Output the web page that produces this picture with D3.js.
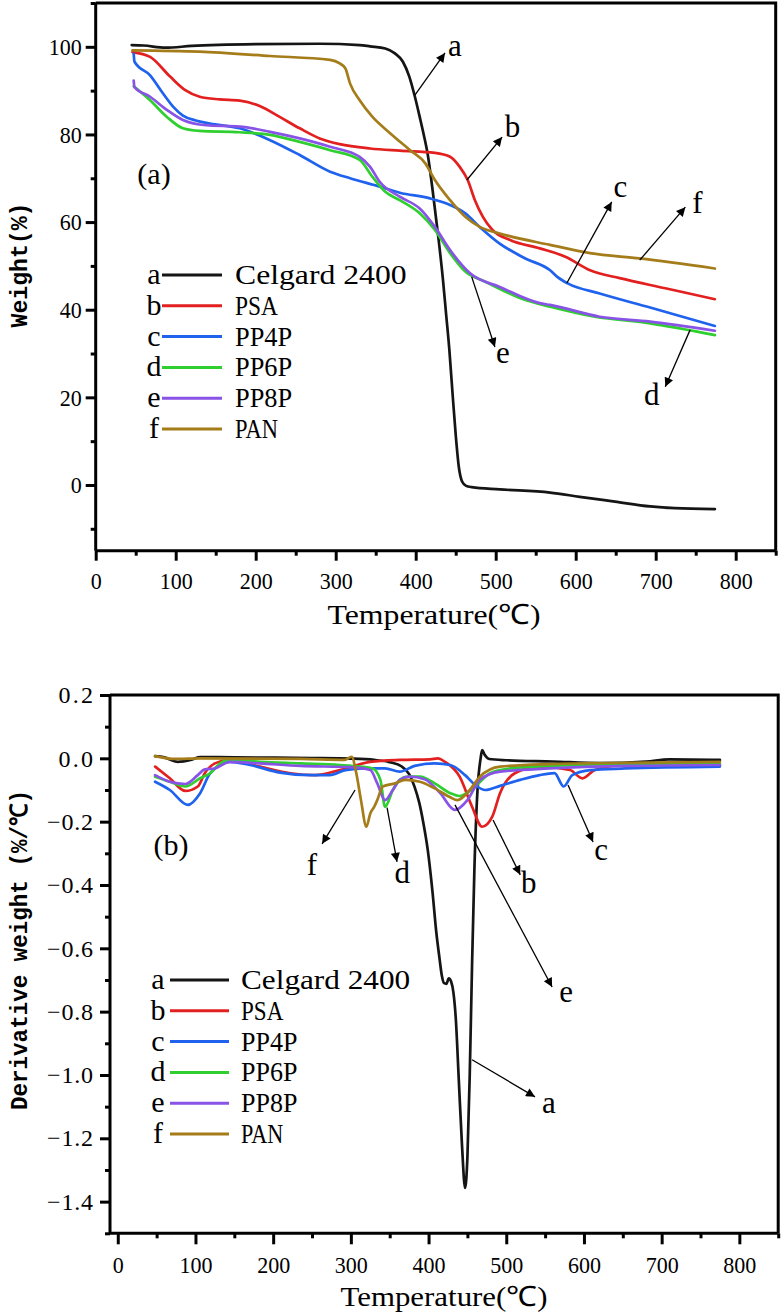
<!DOCTYPE html>
<html><head><meta charset="utf-8">
<script src="https://cdn.jsdelivr.net/npm/d3@7"></script>
<style>
html,body{margin:0;padding:0;background:#fff;}
svg{display:block;}
</style></head>
<body>
<svg id="chart" width="782" height="1315"></svg>
<script>
// ---------- DATA ----------
const seriesLabels = ["Celgard 2400", "PSA", "PP4P", "PP6P", "PP8P", "PAN"];
const seriesKeys = ["a", "b", "c", "d", "e", "f"];
const seriesColors = ["#151515", "#e2201f", "#1f62ee", "#2fcf2f", "#8853e6", "#a47c1a"];

// TGA (weight %, vs temperature °C)
const tgaCelgard = [[45,100.4],[60,100.3],[87,99.8],[120,100.2],[200,100.6],[280,100.7],[330,100.4],[343,100.1],[362,99.6],[374,98.5],[384,96.6],[392,93.2],[399,88.6],[405,84],[410,80],[415,75.5],[421,67.5],[428,57],[434,47],[438,39],[442,31],[446,21],[450,11.5],[454,4],[458,0.8],[463,-0.2],[470,-0.5],[505,-1.0],[568,-1.75],[605,-2.7],[649,-3.8],[693,-4.9],[724,-5.3],[774,-5.5]];
const tgaPSA = [[46,98.8],[68,97.7],[93,93.2],[112,90.1],[130,88.6],[155,88],[180,87.7],[205,86.5],[230,84],[255,81.4],[280,79.1],[305,77.8],[343,76.8],[380,76.3],[424,75.8],[443,74.9],[455,72.6],[465,69.6],[474,65],[484,61.2],[496,58.2],[518,55.9],[555,54],[587,52.1],[618,49],[655,47.2],[712,44.9],[774,42.4]];
const tgaPP4P = [[47.5,98.4],[48.5,96.6],[68,93.5],[84,89.4],[97,86.3],[109,84.3],[125,83.2],[143,82.5],[180,81.4],[218,78.7],[255,75.3],[293,71.5],[318,70],[355,68.1],[380,66.7],[418,65.4],[443,63.9],[462,62],[480,58.9],[505,55.1],[537,51.7],[568,49],[577,47.5],[590,46],[630,43.7],[693,40.5],[774,36.3]];
const tgaPP6P = [[47.5,91],[68,87.8],[89,84],[109,81.4],[130,80.8],[180,80.5],[218,79.9],[255,78.3],[293,76.4],[330,74.2],[346,70.3],[362,66.9],[380,65],[405,62],[424,58.2],[443,52.9],[462,48.7],[487,46.4],[537,42.2],[568,40.7],[624,38.4],[693,36.9],[774,34.2]];
const tgaPP8P = [[47.5,92.3],[48.5,90.8],[68,88.6],[89,85.6],[109,83.3],[138,82.1],[180,81.8],[218,80.6],[255,79.1],[293,77.2],[330,74.9],[343,72.6],[355,69.2],[380,65.8],[405,63.1],[424,58.9],[443,53.6],[468,48.3],[505,45.2],[555,41.5],[568,41.1],[630,38.4],[693,37.3],[774,35.2]];
const tgaPAN = [[46,99.2],[130,98.9],[218,97.9],[293,97],[305,96.2],[312,95.1],[318,91.6],[330,87.8],[346,84],[368,80.3],[393,76.4],[412,73.4],[424,69.6],[443,65],[462,61.2],[480,58.9],[505,57.4],[568,54.8],[618,52.9],[680,51.7],[774,49.4]];

// DTG (derivative weight %/°C, vs temperature °C)
const dtgCelgard = [[48,0.007],[60,0.003],[77,-0.011],[95,-0.004],[106,0.004],[150,0.003],[250,0.001],[300,-0.001],[330,-0.005],[350,-0.012],[365,-0.025],[375,-0.05],[382,-0.09],[388,-0.14],[393,-0.2],[399,-0.29],[405,-0.42],[410,-0.55],[414,-0.63],[417,-0.685],[420,-0.71],[423,-0.712],[426,-0.695],[429,-0.705],[432,-0.74],[435,-0.82],[439,-1.02],[443,-1.22],[447,-1.357],[450,-1.26],[453,-1.0],[456,-0.65],[459,-0.35],[463,-0.1],[467,0.0],[469,0.026],[472,0.012],[478,-0.002],[500,-0.006],[560,-0.01],[620,-0.015],[680,-0.01],[710,-0.003],[775,-0.005]];
const dtgPSA = [[48,-0.026],[67,-0.063],[87,-0.103],[103,-0.089],[112,-0.047],[125,-0.016],[144,-0.005],[183,-0.026],[222,-0.047],[254,-0.053],[286,-0.037],[325,-0.011],[363,-0.005],[402,-0.003],[412,0.0],[421,-0.011],[440,-0.058],[456,-0.153],[469,-0.216],[482,-0.184],[492,-0.11],[511,-0.047],[543,-0.026],[582,-0.037],[598,-0.063],[614,-0.037],[653,-0.021],[775,-0.021]];
const dtgPP4P = [[48,-0.074],[67,-0.1],[90,-0.147],[106,-0.11],[119,-0.047],[144,-0.011],[170,-0.021],[209,-0.045],[248,-0.053],[273,-0.053],[293,-0.037],[318,-0.032],[344,-0.032],[363,-0.042],[382,-0.024],[408,-0.016],[428,-0.021],[447,-0.053],[460,-0.084],[473,-0.1],[492,-0.087],[518,-0.068],[543,-0.053],[562,-0.047],[574,-0.089],[585,-0.053],[608,-0.037],[653,-0.032],[775,-0.026]];
const dtgPP6P = [[48,-0.058],[67,-0.074],[87,-0.089],[106,-0.063],[119,-0.047],[132,-0.016],[144,-0.005],[183,-0.011],[235,-0.016],[286,-0.021],[312,-0.026],[328,-0.032],[338,-0.068],[344,-0.153],[354,-0.1],[363,-0.068],[373,-0.058],[389,-0.058],[408,-0.079],[428,-0.11],[440,-0.119],[460,-0.089],[479,-0.047],[505,-0.032],[556,-0.024],[653,-0.018],[775,-0.018]];
const dtgPP8P = [[48,-0.053],[67,-0.074],[87,-0.081],[103,-0.053],[112,-0.035],[125,-0.032],[144,-0.011],[183,-0.016],[235,-0.024],[299,-0.028],[325,-0.037],[334,-0.079],[344,-0.132],[354,-0.1],[363,-0.068],[376,-0.058],[395,-0.066],[415,-0.11],[434,-0.163],[450,-0.132],[466,-0.068],[492,-0.042],[556,-0.032],[653,-0.024],[775,-0.021]];
const dtgPAN = [[48,0.007],[74,-0.002],[106,0.0],[235,-0.002],[292,-0.005],[301,0.005],[307,-0.047],[313,-0.132],[320,-0.216],[325,-0.174],[330,-0.153],[334,-0.132],[341,-0.089],[357,-0.079],[370,-0.068],[389,-0.074],[408,-0.095],[428,-0.123],[437,-0.132],[453,-0.1],[466,-0.058],[492,-0.026],[556,-0.018],[653,-0.014],[775,-0.011]];

// Axis ticks
const xTicks = [0, 100, 200, 300, 400, 500, 600, 700, 800];
const xMinorTicks = [50, 150, 250, 350, 450, 550, 650, 750, 850];
const tgaYTicks = [0, 20, 40, 60, 80, 100];
const tgaYMinorTicks = [-10, 10, 30, 50, 70, 90, 110];
const dtgYTicks = [0.2, 0.0, -0.2, -0.4, -0.6, -0.8, -1.0, -1.2, -1.4];
const dtgYMinorTicks = [0.1, -0.1, -0.3, -0.5, -0.7, -0.9, -1.1, -1.3, -1.5];

// Arrow annotations (data coordinates): from curve point, to arrow tip, label position
const tgaArrows = [
  {label:"a", from:[399,89.0], to:[436.6,98.6], at:[449,98.0]},
  {label:"b", from:[464,69.6], to:[508,79.4], at:[521,79.4]},
  {label:"c", from:[589,46.1], to:[645,64.6], at:[656,65.7]},
  {label:"f", from:[680,51.3], to:[737,63.4], at:[752,62.1]},
  {label:"e", from:[470,47.5], to:[499,31.5], at:[509,27.8]},
  {label:"d", from:[743,35.4], to:[712,22.4], at:[695,18.3]}
];
const dtgArrows = [
  {label:"f", from:[305.4,-0.10], to:[263,-0.27], at:[250,-0.368]},
  {label:"d", from:[346.6,-0.156], to:[359.4,-0.327], at:[366,-0.394]},
  {label:"b", from:[483,-0.195], to:[518,-0.368], at:[529,-0.425]},
  {label:"c", from:[579.5,-0.084], to:[611.7,-0.264], at:[622,-0.321]},
  {label:"e", from:[434,-0.147], to:[559,-0.722], at:[577,-0.77]},
  {label:"a", from:[456,-0.952], to:[537,-1.069], at:[555,-1.12]}
];

const tgaSeries = [tgaCelgard, tgaPSA, tgaPP4P, tgaPP6P, tgaPP8P, tgaPAN];
const dtgSeries = [dtgCelgard, dtgPSA, dtgPP4P, dtgPP6P, dtgPP8P, dtgPAN];

// ---------- DRAWING ----------
const svg = d3.select("#chart");
const serif = "Liberation Serif, Times New Roman, serif";
const mono = "Liberation Mono, DejaVu Sans Mono, monospace";

svg.append("defs").append("marker")
  .attr("id","arrow").attr("viewBox","0 0 10 10").attr("refX",10).attr("refY",5)
  .attr("markerUnits","userSpaceOnUse").attr("markerWidth",13).attr("markerHeight",9)
  .attr("orient","auto")
  .append("path").attr("d","M0,0 L10,5 L0,10 Z").attr("fill","#000");

function panel(cfg) {
  const g = svg.append("g");
  const x = d3.scaleLinear().domain(cfg.xDomain).range(cfg.xRange);
  const y = d3.scaleLinear().domain(cfg.yDomain).range(cfg.yRange);
  const [x0, x1] = cfg.xRange, [y0, y1] = cfg.yRange; // y0 bottom, y1 top

  // curves
  const line = d3.line().x(d => x(d[0])).y(d => y(d[1])).curve(d3.curveMonotoneX);
  cfg.series.forEach((s, i) => {
    g.append("path").attr("d", line(s)).attr("fill","none")
      .attr("stroke", seriesColors[i]).attr("stroke-width", 2.7)
      .attr("stroke-linejoin","round").attr("stroke-linecap","round");
  });

  // frame top/right
  g.append("path").attr("d", `M${x0},${y1} H${x1} V${y0}`).attr("fill","none")
    .attr("stroke","#000").attr("stroke-width",3);

  // x axis
  const xa = g.append("g").attr("transform", `translate(0,${y0})`)
    .call(d3.axisBottom(x).tickValues(xTicks).tickSize(cfg.xTickLen).tickPadding(cfg.xPad).tickFormat(d3.format("d")));
  g.append("g").attr("transform", `translate(0,${y0})`)
    .call(d3.axisBottom(x).tickValues(xMinorTicks).tickSize(5).tickFormat(""))
    .call(s => s.select(".domain").remove());
  xa.select(".domain").attr("d", `M${x0},0H${x1}`);
  // y axis
  const ya = g.append("g").attr("transform", `translate(${x0},0)`)
    .call(d3.axisLeft(y).tickValues(cfg.yTicks).tickSize(10).tickPadding(cfg.yPad).tickFormat(cfg.yFormat));
  g.append("g").attr("transform", `translate(${x0},0)`)
    .call(d3.axisLeft(y).tickValues(cfg.yMinor).tickSize(5).tickFormat(""))
    .call(s => s.select(".domain").remove());
  ya.select(".domain").attr("d", `M0,${y0}V${y1}`);
  [xa, ya].forEach(a => a.attr("font-family", serif).attr("font-size", 24));
  g.selectAll(".domain").attr("stroke","#000").attr("stroke-width",3);
  g.selectAll(".tick line").attr("stroke","#000").attr("stroke-width",3);
  g.selectAll(".tick text").attr("fill","#000").attr("font-family", serif).attr("font-size", 24);
  xa.selectAll(".tick text").each(function() {
    const t = d3.select(this); const n = t.text().length;
    t.attr("textLength", n * 11).attr("lengthAdjust","spacingAndGlyphs");
  });
  ya.selectAll(".tick text").each(function() {
    const t = d3.select(this); const n = t.text().length;
    t.attr("textLength", n * cfg.yLabelLen).attr("lengthAdjust", cfg.yAdjust);
  });

  // axis titles
  g.append("text").attr("x", cfg.xTitle[0]).attr("y", cfg.xTitle[1])
    .attr("text-anchor","middle").attr("font-family", serif).attr("font-size", 28)
    .attr("textLength", cfg.xTitle[2]).attr("lengthAdjust","spacingAndGlyphs")
    .text("Temperature(℃)");
  g.append("text").attr("transform", `translate(${cfg.yTitle[0]},${cfg.yTitle[1]}) rotate(-90)`)
    .attr("text-anchor","middle").attr("font-family", mono).attr("font-size", 24).attr("font-weight","bold")
    .attr("textLength", cfg.yTitle[2]).attr("lengthAdjust","spacingAndGlyphs")
    .text(cfg.yTitleText);

  // panel label
  g.append("text").attr("x", cfg.panelLabel[0]).attr("y", cfg.panelLabel[1])
    .attr("text-anchor","middle").attr("font-family", serif).attr("font-size", 30)
    .text(cfg.panelText);

  // legend
  const L = cfg.legend;
  seriesLabels.forEach((lab, i) => {
    const ly = L.y + i * L.dy;
    g.append("text").attr("x", L.letterX).attr("y", ly + 9).attr("text-anchor","middle")
      .attr("font-family", serif).attr("font-size", 30).text(seriesKeys[i]);
    g.append("line").attr("x1", L.lineX[0]).attr("x2", L.lineX[1]).attr("y1", ly).attr("y2", ly)
      .attr("stroke", seriesColors[i]).attr("stroke-width", 3);
    g.append("text").attr("x", L.textX).attr("y", ly + 9)
      .attr("font-family", serif).attr("font-size", 27)
      .attr("textLength", lab.length * L.charW).attr("lengthAdjust","spacingAndGlyphs")
      .text(lab);
  });

  // arrows
  cfg.arrows.forEach(a => {
    g.append("line").attr("x1", x(a.from[0])).attr("y1", y(a.from[1]))
      .attr("x2", x(a.to[0])).attr("y2", y(a.to[1]))
      .attr("stroke","#000").attr("stroke-width",1.3).attr("marker-end","url(#arrow)");
    g.append("text").attr("x", x(a.at[0])).attr("y", y(a.at[1])).attr("text-anchor","middle")
      .attr("font-family", serif).attr("font-size", 31).text(a.label);
  });
}

panel({
  xDomain:[0,850], xRange:[95.7,775.7],
  yDomain:[-15,110], yRange:[550.7,3],
  series: tgaSeries,
  xTickLen:10, xPad:11,
  yTicks: tgaYTicks, yMinor: tgaYMinorTicks, yPad:4, yFormat: d3.format("d"), yLabelLen:11, yAdjust:"spacingAndGlyphs",
  xTitle:[434,624,213],
  yTitle:[27,265,125], yTitleText:"Weight(%)",
  panelLabel:[154,184], panelText:"(a)",
  legend:{y:275, dy:30.8, letterX:154, lineX:[162,222], textX:235, charW:14.3},
  arrows: tgaArrows
});

panel({
  xDomain:[-10,850], xRange:[110,778.2],
  yDomain:[-1.5,0.2], yRange:[1233.3,695],
  series: dtgSeries,
  xTickLen:11, xPad:12,
  yTicks: dtgYTicks, yMinor: dtgYMinorTicks, yPad:7, yFormat: d3.format(".1f"), yLabelLen:11.5, yAdjust:"spacing",
  xTitle:[444,1306,207],
  yTitle:[27,950,320], yTitleText:"Derivative weight (%/℃)",
  panelLabel:[171,855], panelText:"(b)",
  legend:{y:980, dy:30.8, letterX:158, lineX:[170,229], textX:241, charW:14.1},
  arrows: dtgArrows
});
</script>
</body></html>
